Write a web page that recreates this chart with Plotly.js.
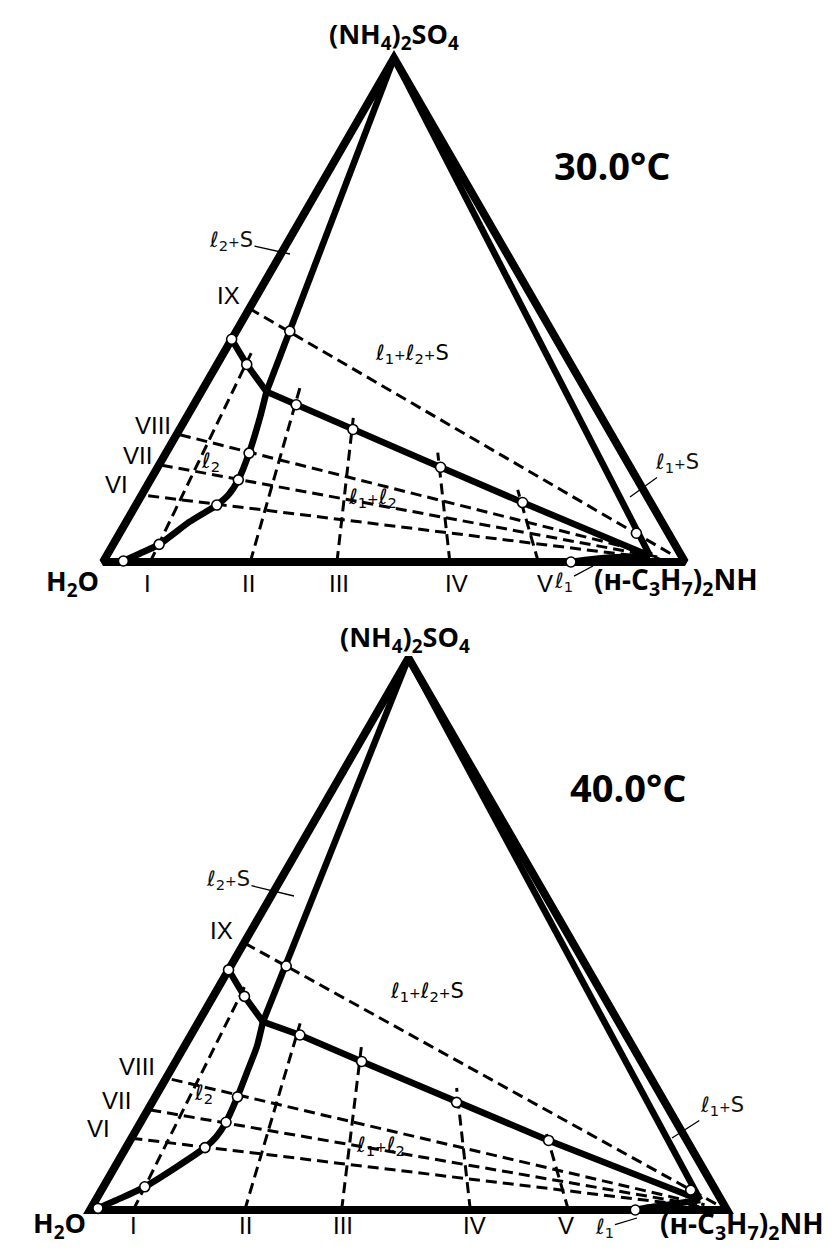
<!DOCTYPE html>
<html>
<head>
<meta charset="utf-8">
<script src="https://cdn.plot.ly/plotly-3.0.1.min.js"></script>
<style>
  html, body { margin: 0; padding: 0; background: #fff; }
  #chart { width: 834px; height: 1256px; }
</style>
</head>
<body>
<div id="chart"></div>
<script>
// Phase diagram of the H2O – (NH4)2SO4 – (n-C3H7)2NH system at 30.0 °C and 40.0 °C.
// All compositions in mass %: S = (NH4)2SO4, D = (n-C3H7)2NH, water = 100 - S - D.

// ---------- 30.0 °C ----------
// saturation curve of (NH4)2SO4 (water side -> l2 invariant point -> l1 invariant point)
const sat30_S = [44.2, 39.2, 33.8, 31.2, 26.3, 18.8, 11.8, 1.2];
const sat30_D = [0.0, 5.1, 11.2, 17.6, 29.8, 48.6, 66.2, 93.4];
// binodal, water-rich branch l2 (from the invariant point down to the base)
const l2_30_S = [33.8, 28.8, 21.6, 16.3, 13.3, 11.3, 8.0, 3.5, 1.7, 0.2];
const l2_30_D = [11.2, 12.6, 14.3, 15.1, 14.9, 13.9, 10.9, 7.9, 5.5, 3.4];
// binodal, amine-rich branch l1
const l1_30_S = [0.0, 0.4, 0.9, 1.2];
const l1_30_D = [80.4, 82.6, 86.6, 93.4];
// experimental points
const pts30_S = [44.2, 39.2, 31.2, 26.3, 18.8, 11.8, 45.8, 5.7, 21.6, 16.3, 11.3, 3.5, 0.2, 0.0];
const pts30_D = [0.0, 5.1, 17.6, 29.8, 48.6, 66.2, 9.2, 88.8, 14.3, 15.1, 13.9, 7.9, 3.4, 80.4];
// sections I–V: start on the H2O–amine side (D0), run toward (NH4)2SO4 up to S = Send
const secA30_D0 = [8.1, 25.3, 40.2, 59.6, 74.8];
const secA30_Send = [42.1, 34.5, 28.6, 21.7, 14.3];
// sections VI–IX: start on the H2O–salt side (S0), run toward the amine from Dstart to Dend
const secB30_S0 = [13.3, 19.3, 25.4, 50.3];
const secB30_Dstart = [1.2, 0.5, 0.6, 0.0];
const secB30_Dend = [95.3, 95.3, 94.7, 97.4];

// ---------- 40.0 °C ----------
const sat40_S = [43.5, 38.7, 34.1, 31.7, 26.9, 19.5, 12.6, 1.8];
const sat40_D = [0.0, 4.9, 10.1, 17.1, 29.2, 47.8, 65.7, 94.9];
const l2_40_S = [34.1, 29.6, 24.8, 20.5, 15.9, 13.3, 11.3, 7.8, 4.2, 2.1, 0.3];
const l2_40_D = [10.1, 11.4, 12.2, 12.9, 13.4, 13.2, 12.4, 9.7, 6.5, 3.7, 1.1];
const l1_40_S = [0.0, 0.5, 0.9, 1.8];
const l1_40_D = [85.6, 87.6, 90.1, 94.9];
const pts40_S = [43.5, 38.7, 31.7, 26.9, 19.5, 12.6, 44.2, 3.6, 20.5, 15.9, 11.3, 4.2, 0.3, 0.0];
const pts40_D = [0.0, 4.9, 17.1, 29.2, 47.8, 65.7, 8.7, 92.5, 12.9, 13.4, 12.4, 6.5, 1.1, 85.6];
const secA40_D0 = [6.8, 24.3, 39.5, 59.7, 75.1];
const secA40_Send = [41.1, 33.8, 29.9, 22.1, 14.8];
const secB40_S0 = [13.0, 18.2, 23.9, 48.4];
const secB40_Dstart = [0.0, 0.4, 1.0, 0.2];
const secB40_Dend = [96.0, 96.0, 96.0, 98.6];

// section labels
const secA_names = ['I', 'II', 'III', 'IV', 'V'];
const secB_names = ['VI', 'VII', 'VIII', 'IX'];

// ---------- drawing ----------
const W = 834, H = 1256, PAD = 3;

// ternary composition -> plane: x along the base (H2O -> amine), y toward the salt vertex
const tx = (S, D) => D + S / 2;
const ty = (S) => S;

function xy(Sarr, Darr) {
  return { x: Sarr.map((s, i) => tx(s, Darr[i])), y: Sarr.map(s => ty(s)) };
}

function panelTraces(ax, ay, d) {
  const base = { xaxis: ax, yaxis: ay, mode: 'lines', hoverinfo: 'skip', showlegend: false };
  const traces = [];
  const thick = { color: '#000', width: 6.5 };
  // triangle frame: H2O -> salt -> amine -> H2O -> salt
  const fS = [0, 100, 0, 0, 100], fD = [0, 0, 100, 0, 0];
  traces.push(Object.assign({}, base, xy(fS, fD), { line: { color: '#000', width: 8 } }));
  // tie lines from the salt vertex to both invariant points
  const nS = d.satS.length - 1;
  traces.push(Object.assign({}, base, xy([100, d.l2S[0]], [0, d.l2D[0]]), { line: thick }));
  traces.push(Object.assign({}, base, xy([100, d.satS[nS]], [0, d.satD[nS]]), { line: thick }));
  // saturation curve and binodal branches
  traces.push(Object.assign({}, base, xy(d.satS, d.satD), { line: thick }));
  traces.push(Object.assign({}, base, xy(d.l2S, d.l2D), { line: Object.assign({ shape: 'spline', smoothing: 0.6 }, thick) }));
  traces.push(Object.assign({}, base, xy(d.l1S, d.l1D), { line: Object.assign({ shape: 'spline', smoothing: 0.6 }, thick) }));
  // dashed sections
  const dx = [], dy = [];
  d.aD0.forEach((D0, i) => {
    const Se = d.aSend[i];
    dx.push(tx(0, D0), tx(Se, D0 * (1 - Se / 100)), null);
    dy.push(ty(0), ty(Se), null);
  });
  d.bS0.forEach((S0, i) => {
    const D1 = d.bD1[i], D2 = d.bD2[i];
    const S1 = S0 * (1 - D1 / 100), S2 = S0 * (1 - D2 / 100);
    dx.push(tx(S1, D1), tx(S2, D2), null);
    dy.push(ty(S1), ty(S2), null);
  });
  traces.push(Object.assign({}, base, { x: dx, y: dy, connectgaps: false,
    line: { color: '#000', width: 3, dash: '11px,6px' } }));
  // experimental points
  traces.push(Object.assign({}, base, xy(d.pS, d.pD), { mode: 'markers', cliponaxis: false,
    marker: { symbol: 'circle', size: 10, color: '#fff', line: { color: '#000', width: 1.6 } } }));
  return traces;
}

const traces = [].concat(
  panelTraces('x', 'y', { satS: sat30_S, satD: sat30_D, l2S: l2_30_S, l2D: l2_30_D, l1S: l1_30_S, l1D: l1_30_D,
    pS: pts30_S, pD: pts30_D, aD0: secA30_D0, aSend: secA30_Send, bS0: secB30_S0, bD1: secB30_Dstart, bD2: secB30_Dend }),
  panelTraces('x2', 'y2', { satS: sat40_S, satD: sat40_D, l2S: l2_40_S, l2D: l2_40_D, l1S: l1_40_S, l1D: l1_40_D,
    pS: pts40_S, pD: pts40_D, aD0: secA40_D0, aSend: secA40_Send, bS0: secB40_S0, bD1: secB40_Dstart, bD2: secB40_Dend })
);

// place each triangle: base corners (left, right), base line and apex height in page pixels
function frameDomain(leftX, rightX, baseY, apexY) {
  const ux = (rightX - leftX) / 100, uy = (baseY - apexY) / 100;
  return {
    x: [(leftX - PAD * ux) / W, (rightX + PAD * ux) / W],
    y: [1 - (baseY + PAD * uy) / H, 1 - (apexY - PAD * uy) / H]
  };
}
const dTop = frameDomain(103, 685, 562, 58);
const dBot = frameDomain(90, 727, 1210, 658);
const axisCommon = { range: [-PAD, 100 + PAD], visible: false, fixedrange: true, showgrid: false, zeroline: false };

// text helpers (page pixels)
const px = v => v / W, py = v => 1 - v / H;
const BOLD = 'Open Sans', SANS = 'Liberation Sans', SCRIPT = 'DejaVu Sans';
function txt(text, x, y, size, family, weight) {
  return { text, x: px(x), y: py(y), xref: 'paper', yref: 'paper', xanchor: 'center', yanchor: 'middle',
    showarrow: false, font: { family, size, color: '#000', weight: weight || 400 } };
}
function lead(text, x, y, tipX, tipY, size) {
  return { text, x: px(tipX), y: py(tipY), xref: 'paper', yref: 'paper', ax: x - tipX, ay: y - tipY,
    showarrow: true, arrowhead: 0, arrowwidth: 1.3, arrowcolor: '#000', standoff: 0, startstandoff: 0,
    font: { family: SCRIPT, size, color: '#111' } };
}

const SALT = '(NH<sub>4</sub>)<sub>2</sub>SO<sub>4</sub>';
const AMINE = '(н-C<sub>3</sub>H<sub>7</sub>)<sub>2</sub>NH';
const WATER = 'H<sub>2</sub>O';
const PLUS = '<span style="font-size:14px">+</span>';
const L1 = 'ℓ<sub>1</sub>', L2 = 'ℓ<sub>2</sub>';
const LS = 21;

const secA_top = [147, 248, 339, 456, 545];
const secA_bot = [133, 245, 343, 474, 566];
const secB_top = [[117, 485], [137, 456], [153, 425], [228, 295]];
const secB_bot = [[98, 1128], [116, 1100], [137, 1066], [221, 930]];

const annotations = [
  txt(SALT, 394, 36, 27, BOLD, 700),
  txt('30.0°C', 612, 165, 38, BOLD, 700),
  txt(WATER, 72, 582, 27, BOLD, 700),
  txt(AMINE, 676, 581, 28, BOLD, 700),
  lead(L2 + PLUS + 'S', 231, 241, 290, 254, LS),
  txt(L1 + PLUS + L2 + PLUS + 'S', 412, 354, LS, SCRIPT),
  txt(L2, 210, 462, LS, SCRIPT),
  txt(L1 + PLUS + L2, 372, 498, LS, SCRIPT),
  lead(L1 + PLUS + 'S', 677, 463, 630, 497, LS),
  lead(L1, 563, 582, 593, 566, LS),

  txt(SALT, 405, 638, 27, BOLD, 700),
  txt('40.0°C', 628, 787, 38, BOLD, 700),
  txt(WATER, 59, 1224, 27, BOLD, 700),
  txt(AMINE, 742, 1225, 28, BOLD, 700),
  lead(L2 + PLUS + 'S', 228, 880, 294, 896, LS),
  txt(L1 + PLUS + L2 + PLUS + 'S', 427, 992, LS, SCRIPT),
  txt(L2, 203, 1094, LS, SCRIPT),
  txt(L1 + PLUS + L2, 380, 1146, LS, SCRIPT),
  lead(L1 + PLUS + 'S', 722, 1106, 672, 1138, LS),
  lead(L1, 604, 1228, 637, 1218, LS)
];
secA_names.forEach((n, i) => {
  annotations.push(txt(n, secA_top[i], 583, 24, SANS));
  annotations.push(txt(n, secA_bot[i], 1225, 24, SANS));
});
secB_names.forEach((n, i) => {
  annotations.push(txt(n, secB_top[i][0], secB_top[i][1], 24, SANS));
  annotations.push(txt(n, secB_bot[i][0], secB_bot[i][1], 24, SANS));
});

const layout = {
  width: W, height: H,
  margin: { l: 0, r: 0, t: 0, b: 0, pad: 0 },
  paper_bgcolor: '#fff', plot_bgcolor: 'rgba(0,0,0,0)',
  showlegend: false,
  xaxis: Object.assign({ domain: dTop.x, anchor: 'y' }, axisCommon),
  yaxis: Object.assign({ domain: dTop.y, anchor: 'x' }, axisCommon),
  xaxis2: Object.assign({ domain: dBot.x, anchor: 'y2' }, axisCommon),
  yaxis2: Object.assign({ domain: dBot.y, anchor: 'x2' }, axisCommon),
  annotations
};

Plotly.newPlot('chart', traces, layout, { staticPlot: true, displayModeBar: false });
</script>
</body>
</html>
